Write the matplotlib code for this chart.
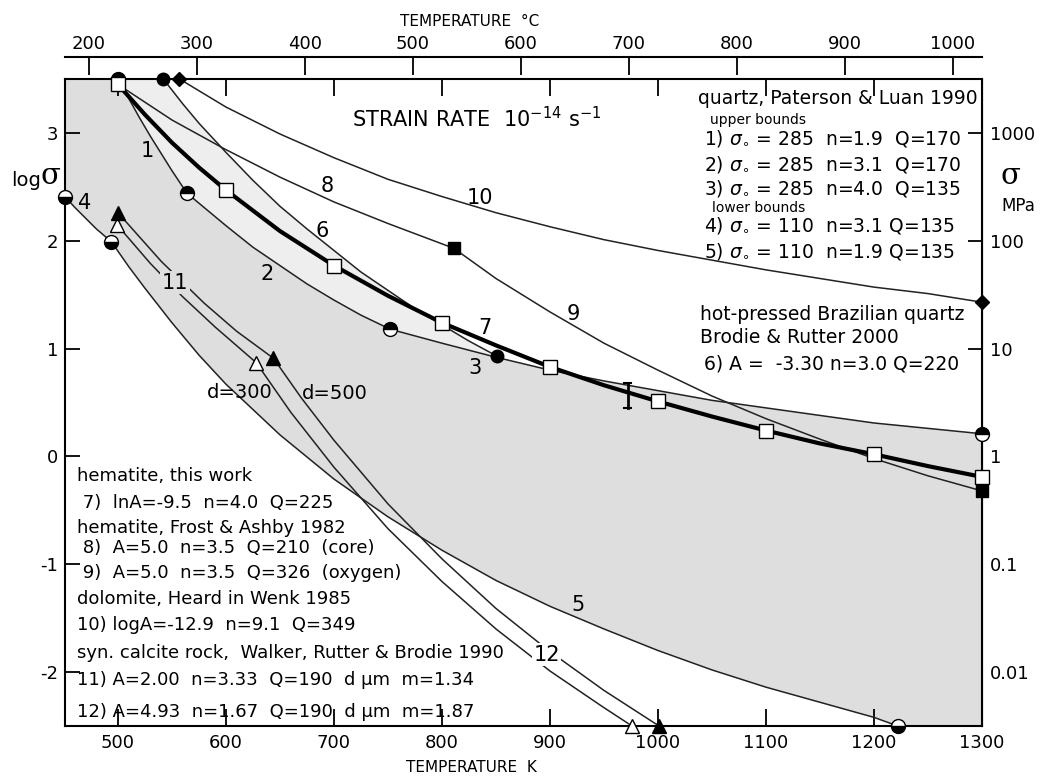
import numpy as np
import matplotlib
matplotlib.use('Agg')
import matplotlib.pyplot as plt

plt.rcParams['font.family'] = ['DejaVu Sans']
plt.rcParams['mathtext.fontset'] = 'dejavusans'

# temperature in K, log10 of stress in MPa

# 7) hematite, this work (thick curve, open squares every 100 K)
t_hem = [500, 525, 550, 575, 600, 650, 700, 750, 800, 850, 900, 950, 1000,
         1050, 1100, 1150, 1200, 1250, 1300]
s_hem = [3.45, 3.17, 2.91, 2.68, 2.47, 2.09, 1.77, 1.49, 1.24, 1.03, 0.83,
         0.66, 0.51, 0.37, 0.24, 0.12, 0.02, -0.09, -0.19]
t_sq = [500, 600, 700, 800, 900, 1000, 1100, 1200, 1300]
s_sq = [3.45, 2.47, 1.77, 1.24, 0.83, 0.51, 0.24, 0.02, -0.19]

# quartz, Paterson & Luan: upper bound pieces 1-3, lower bound pieces 4-5
t1 = [500, 510, 520, 530, 540, 550, 564]
s1 = [3.50, 3.32, 3.14, 2.97, 2.81, 2.65, 2.44]
t2 = [564, 600, 625, 650, 675, 700, 725, 752]
s2 = [2.44, 2.14, 1.94, 1.77, 1.60, 1.45, 1.31, 1.18]
t3 = [752, 800, 850, 900, 950, 1000, 1050, 1100, 1150, 1200, 1250, 1300]
s3 = [1.18, 1.05, 0.92, 0.80, 0.70, 0.61, 0.52, 0.45, 0.38, 0.31, 0.26, 0.21]
t4 = [451, 460, 470, 480, 494]
s4 = [2.41, 2.31, 2.21, 2.11, 1.99]
t5 = [494, 510, 525, 550, 575, 600, 650, 700, 750, 800, 850, 900, 950, 1000,
      1050, 1100, 1150, 1200, 1222]
s5 = [1.99, 1.76, 1.56, 1.24, 0.94, 0.67, 0.20, -0.21, -0.56, -0.87, -1.15,
      -1.39, -1.60, -1.80, -1.98, -2.14, -2.28, -2.42, -2.50]
t_up_pts = [500, 564, 752, 1300]
s_up_pts = [3.50, 2.44, 1.18, 0.21]
t_lo_pts = [451, 494, 1222]
s_lo_pts = [2.41, 1.99, -2.50]

# 6) hot-pressed Brazilian quartz, Brodie & Rutter
t6 = [542, 560, 575, 600, 625, 650, 675, 700, 725, 750, 775, 800, 825, 851]
s6 = [3.50, 3.27, 3.09, 2.82, 2.56, 2.32, 2.11, 1.91, 1.71, 1.54, 1.37, 1.22,
      1.07, 0.93]

# 8) and 9) hematite, Frost & Ashby
t8 = [500, 550, 599, 650, 700, 750, 811]
s8 = [3.45, 3.12, 2.85, 2.59, 2.36, 2.16, 1.93]
t9 = [811, 850, 900, 950, 1000, 1050, 1100, 1150, 1200, 1250, 1300]
s9 = [1.93, 1.65, 1.34, 1.05, 0.80, 0.56, 0.35, 0.16, -0.02, -0.18, -0.32]

# 10) dolomite, Heard
t10 = [557, 600, 650, 700, 750, 800, 850, 900, 950, 1000, 1050, 1100, 1150,
       1200, 1250, 1300]
s10 = [3.50, 3.24, 2.99, 2.77, 2.57, 2.41, 2.26, 2.13, 2.01, 1.91, 1.82,
       1.73, 1.65, 1.57, 1.51, 1.43]

# 11) / 12) synthetic calcite rock, d = 300 (open) and d = 500 (filled)
t11_300 = [499, 530, 560, 590, 628]
s11_300 = [2.15, 1.79, 1.48, 1.20, 0.87]
t11_500 = [500, 540, 580, 610, 644]
s11_500 = [2.26, 1.81, 1.42, 1.16, 0.91]
t12_300 = [628, 660, 700, 750, 800, 850, 900, 950, 976]
s12_300 = [0.87, 0.41, -0.10, -0.67, -1.16, -1.60, -1.99, -2.33, -2.50]
t12_500 = [644, 670, 700, 750, 800, 850, 900, 950, 1001]
s12_500 = [0.91, 0.54, 0.15, -0.44, -0.95, -1.41, -1.81, -2.17, -2.50]

# error bar on the hematite curve
t_err = 972
s_err = [0.45, 0.68]

ytick_vals = [3, 2, 1, 0, -1, -2]
mpa_labels = ['1000', '100', '10', '1', '0.1', '0.01']
celsius_ticks = [200, 300, 400, 500, 600, 700, 800, 900, 1000]
kelvin_ticks = [500, 600, 700, 800, 900, 1000, 1100, 1200, 1300]

W, H = 1042, 776
fig = plt.figure(figsize=(W / 100, H / 100), dpi=100)
x0, x1, y0, y1 = 65, 982, 79, 726
ax = fig.add_axes([x0 / W, 1 - y1 / H, (x1 - x0) / W, (y1 - y0) / H])
ax.set_xlim(451, 1300)
ax.set_ylim(-2.5, 3.5)

DARK = '#dedede'
LIGHT = '#eeeeee'
LC = '#222222'

# envelope between upper (1-3) and lower (4-5) quartz bounds
poly_t = np.concatenate([[451], t1, t2[1:], t3[1:], [1300, 1222],
                         t5[::-1][1:], t4[::-1][1:]])
poly_s = np.concatenate([[3.5], s1, s2[1:], s3[1:], [-2.5, -2.5],
                         s5[::-1][1:], s4[::-1][1:]])
ax.fill(poly_t, poly_s, color=DARK, lw=0, zorder=1)

# region between the upper bound and curve 6
lt = np.concatenate([t6, t3[:3][::-1], t2[::-1][1:], t1[::-1][1:]])
ls = np.concatenate([s6, s3[:3][::-1], s2[::-1][1:], s1[::-1][1:]])
ax.fill(lt, ls, color=LIGHT, lw=0, zorder=1)

thin = dict(color=LC, lw=1.1, zorder=3)
for t, s in [(t1, s1), (t2, s2), (t3, s3), (t4, s4), (t5, s5), (t6, s6),
             (t8, s8), (t9, s9), (t10, s10), (t11_300, s11_300),
             (t11_500, s11_500), (t12_300, s12_300), (t12_500, s12_500)]:
    ax.plot(t, s, **thin)
ax.plot(t_hem, s_hem, color='black', lw=3.0, zorder=4)
ax.plot([t_err, t_err], s_err, color='black', lw=2, zorder=5)
ax.plot([t_err - 3, t_err + 3], [s_err[0]] * 2, color='black', lw=1.5, zorder=5)
ax.plot([t_err - 3, t_err + 3], [s_err[1]] * 2, color='black', lw=1.5, zorder=5)

mk = dict(ls='none', clip_on=False, zorder=6, markeredgecolor='black',
          markeredgewidth=1.0)
ax.plot(t_up_pts, s_up_pts, marker='o', ms=10, fillstyle='top',
        markerfacecolor='black', markerfacecoloralt='white', **mk)
ax.plot(t_lo_pts, s_lo_pts, marker='o', ms=10, fillstyle='bottom',
        markerfacecolor='black', markerfacecoloralt='white', **mk)
ax.plot(t_sq, s_sq, marker='s', ms=9.5, markerfacecolor='white', **mk)
ax.plot([t8[-1], t9[-1]], [s8[-1], s9[-1]], marker='s', ms=9,
        markerfacecolor='black', **mk)
ax.plot([t6[0], t6[-1]], [s6[0], s6[-1]], marker='o', ms=9,
        markerfacecolor='black', **mk)
ax.plot([t10[0], t10[-1]], [s10[0], s10[-1]], marker='D', ms=7.5,
        markerfacecolor='black', **mk)
ax.plot([t11_300[0], t12_300[0], t12_300[-1]],
        [s11_300[0], s12_300[0], s12_300[-1]], marker='^', ms=9.5,
        markerfacecolor='white', **mk)
ax.plot([t11_500[0], t12_500[0], t12_500[-1]],
        [s11_500[0], s12_500[0], s12_500[-1]], marker='^', ms=9.5,
        markerfacecolor='black', **mk)

# axes frame and ticks
for sp in ax.spines.values():
    sp.set_linewidth(1.5)
ax.set_xticks(kelvin_ticks)
ax.set_yticks(ytick_vals)
ax.set_yticklabels([str(v) for v in ytick_vals])
ax.tick_params(axis='x', direction='in', length=12, width=1.3, top=True,
               labelsize=13, pad=6)
ax.tick_params(axis='y', direction='in', length=11, width=1.3, labelsize=13,
               pad=5)

sec_x = ax.secondary_xaxis(1 + 22 / (y1 - y0),
                           functions=(lambda k: k - 273.15, lambda c: c + 273.15))
sec_x.set_xticks(celsius_ticks)
sec_x.tick_params(direction='in', length=13, width=1.3, labelsize=13, pad=3)
sec_x.spines['top'].set_linewidth(1.5)

sec_y = ax.secondary_yaxis('right', functions=(lambda y: y, lambda y: y))
sec_y.set_yticks(ytick_vals)
sec_y.set_yticklabels(mpa_labels)
sec_y.tick_params(direction='in', length=10, width=1.3, labelsize=13, pad=6)


def px(x, y):
    return x / W, 1 - y / H


fig.text(*px(470, 22), 'TEMPERATURE  °C', ha='center', va='center', fontsize=11)
fig.text(*px(471, 767), 'TEMPERATURE  K', ha='center', va='center', fontsize=11)
fig.text(*px(11, 181), 'log', ha='left', va='center', fontsize=14)
fig.text(*px(40, 176), 'σ', ha='left', va='center', fontsize=21,
         family='DejaVu Serif')
fig.text(*px(1000, 176), 'σ', ha='left', va='center', fontsize=21,
         family='DejaVu Serif')
fig.text(*px(1001, 206), 'MPa', ha='left', va='center', fontsize=12)

ax.text(717, 3.13, 'STRAIN RATE  10$^{-14}$ s$^{-1}$', ha='left', va='center',
        fontsize=15)

fr = 13.5
ax.text(1037, 3.32, 'quartz, Paterson & Luan 1990', ha='left', va='center', fontsize=fr)
ax.text(1048, 3.12, 'upper bounds', ha='left', va='center', fontsize=10)
ax.text(1043, 2.95, r'1) $\sigma_{\circ}$ = 285  n=1.9  Q=170', ha='left', va='center', fontsize=fr)
ax.text(1043, 2.71, r'2) $\sigma_{\circ}$ = 285  n=3.1  Q=170', ha='left', va='center', fontsize=fr)
ax.text(1043, 2.48, r'3) $\sigma_{\circ}$ = 285  n=4.0  Q=135', ha='left', va='center', fontsize=fr)
ax.text(1050, 2.30, 'lower bounds', ha='left', va='center', fontsize=10)
ax.text(1043, 2.14, r'4) $\sigma_{\circ}$ = 110  n=3.1 Q=135', ha='left', va='center', fontsize=fr)
ax.text(1043, 1.90, r'5) $\sigma_{\circ}$ = 110  n=1.9 Q=135', ha='left', va='center', fontsize=fr)

ax.text(1039, 1.32, 'hot-pressed Brazilian quartz', ha='left', va='center', fontsize=fr)
ax.text(1039, 1.10, 'Brodie & Rutter 2000', ha='left', va='center', fontsize=fr)
ax.text(1043, 0.86, '6) A =  -3.30 n=3.0 Q=220', ha='left', va='center', fontsize=fr)

fs = 13
left_block = [
    (-0.18, 'hematite, this work'),
    (-0.43, ' 7)  lnA=-9.5  n=4.0  Q=225'),
    (-0.66, 'hematite, Frost & Ashby 1982'),
    (-0.85, ' 8)  A=5.0  n=3.5  Q=210  (core)'),
    (-1.08, ' 9)  A=5.0  n=3.5  Q=326  (oxygen)'),
    (-1.32, 'dolomite, Heard in Wenk 1985'),
    (-1.56, '10) logA=-12.9  n=9.1  Q=349'),
    (-1.82, 'syn. calcite rock,  Walker, Rutter & Brodie 1990'),
    (-2.07, '11) A=2.00  n=3.33  Q=190  d µm  m=1.34'),
    (-2.37, '12) A=4.93  n=1.67  Q=190  d µm  m=1.87'),
]
for yv, txt in left_block:
    ax.text(462, yv, txt, ha='left', va='center', fontsize=fs, zorder=7)

# curve numbers
lab = dict(ha='center', va='center', fontsize=15, zorder=7)
ax.text(527, 2.83, '1', **lab)
ax.text(638, 1.69, '2', **lab)
ax.text(831, 0.82, '3', **lab)
ax.text(469, 2.35, '4', **lab)
ax.text(926, -1.38, '5', **lab)
ax.text(689, 2.09, '6', **lab)
ax.text(840, 1.19, '7', **lab)
ax.text(694, 2.51, '8', **lab)
ax.text(922, 1.32, '9', **lab)
ax.text(835, 2.40, '10', **lab)
ax.text(553, 1.61, '11', bbox=dict(facecolor=DARK, edgecolor='none', pad=1), **lab)
ax.text(897, -1.84, '12', bbox=dict(facecolor='white', edgecolor='none', pad=1), **lab)
ax.text(613, 0.59, 'd=300', ha='center', va='center', fontsize=14, zorder=7)
ax.text(701, 0.58, 'd=500', ha='center', va='center', fontsize=14, zorder=7)

fig.savefig('out.png', dpi=100)
